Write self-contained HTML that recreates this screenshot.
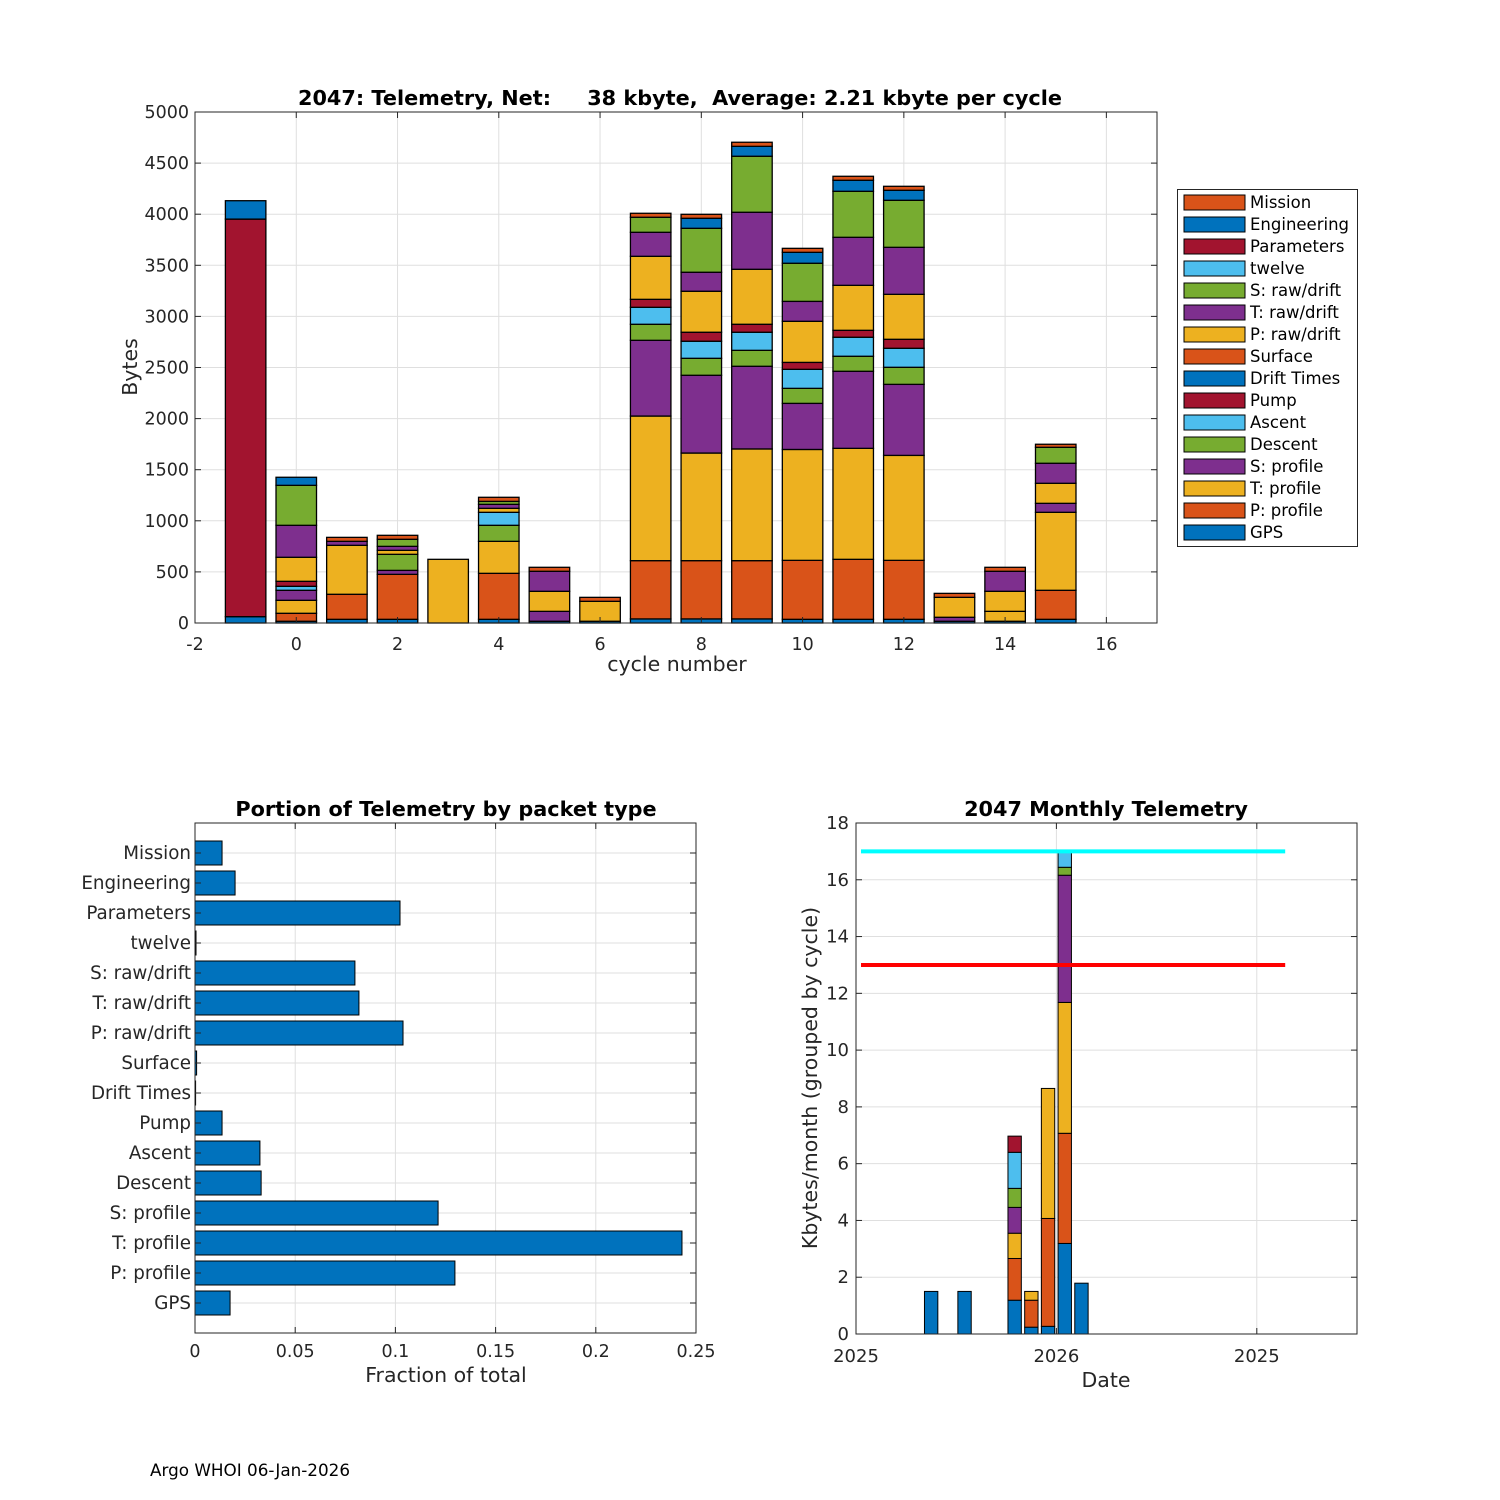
<!DOCTYPE html>
<html><head><meta charset="utf-8">
<style>
html,body{margin:0;padding:0;background:#fff;}
svg{display:block;font-family:"DejaVu Sans","Liberation Sans",sans-serif;}
.pre{white-space:pre;}
</style></head>
<body>
<svg id="fig" width="1500" height="1500" viewBox="0 0 1500 1500" xmlns="http://www.w3.org/2000/svg">
<rect x="0" y="0" width="1500" height="1500" fill="#fff"/>
<g id="top"></g>
<g id="bl"></g>
<g id="br"></g>
<text x="150" y="1476" font-size="16.8" fill="#000">Argo WHOI 06-Jan-2026</text>
</svg>
<script>
// ---------- top chart data ----------
const cycles = [-1,0,1,2,3,4,5,6,7,8,9,10,11,12,13,14,15];
const packetNames = ["GPS","P: profile","T: profile","S: profile","Descent","Ascent","Pump","Drift Times","Surface","P: raw/drift","T: raw/drift","S: raw/drift","twelve","Parameters","Engineering","Mission"];
const gps      = [62,17,36,36,0,36,17,17,40,40,40,36,36,36,17,17,36];
const pProfile = [0,78,245,440,0,450,0,0,570,570,570,577,587,577,0,0,284];
const tProfile = [0,127,479,0,623,313,0,195,1415,1053,1093,1085,1086,1027,0,97,763];
const sProfile = [0,98,39,39,0,0,97,0,741,761,809,451,754,695,39,0,88];
const descent  = [0,0,0,157,0,157,0,0,157,166,156,147,147,167,0,0,0];
const ascent   = [0,39,0,0,0,127,0,0,166,167,177,186,186,186,0,0,0];
const pump     = [0,49,0,0,0,0,0,0,78,88,78,68,68,88,0,0,0];
const driftTimes=[0,0,0,0,0,0,0,0,0,0,0,0,0,0,0,0,0];
const surface  = [0,0,0,0,0,0,0,0,0,0,0,0,0,0,0,0,0];
const pRaw     = [0,235,0,39,0,39,196,0,421,401,538,402,440,440,195,196,196];
const tRaw     = [0,313,0,39,0,39,196,0,235,186,558,195,470,460,0,196,196];
const sRaw     = [0,391,0,69,0,29,0,0,147,430,548,373,450,460,0,0,156];
const twelve   = [0,0,0,0,0,0,0,0,0,0,0,0,0,0,0,0,0];
const parameters=[3890,0,0,0,0,0,0,0,0,0,0,0,0,0,0,0,0];
const engineering=[180,79,0,0,0,0,0,0,0,98,97,107,108,98,0,0,0];
const mission  = [0,0,39,39,0,40,39,39,39,39,40,39,39,39,39,39,30];
const topYTicks = [0,500,1000,1500,2000,2500,3000,3500,4000,4500,5000];
const topXTicks = [-2,0,2,4,6,8,10,12,14,16];

// ---------- bottom-left data ----------
const fractionCats = ["GPS","P: profile","T: profile","S: profile","Descent","Ascent","Pump","Drift Times","Surface","P: raw/drift","T: raw/drift","S: raw/drift","twelve","Parameters","Engineering","Mission"];
const fractionVals = [0.0175,0.1297,0.243,0.1213,0.033,0.0324,0.0135,0.0003,0.0008,0.1038,0.0818,0.0798,0.0005,0.1023,0.020,0.0135];
const fracXTicks = [0,0.05,0.1,0.15,0.2,0.25];
const fracXLabels = ["0","0.05","0.1","0.15","0.2","0.25"];

// ---------- bottom-right data ----------
const monthPos = [4.5,6.5,9.5,10.5,11.5,12.5,13.5];
const mS1 = [1.50,1.50,1.19,0.24,0.27,3.19,1.79];
const mS2 = [0,0,1.47,0.95,3.80,3.88,0];
const mS3 = [0,0,0.89,0.31,4.58,4.61,0];
const mS4 = [0,0,0.91,0,0,4.48,0];
const mS5 = [0,0,0.67,0,0,0.28,0];
const mS6 = [0,0,1.27,0,0,0.57,0];
const mS7 = [0,0,0.57,0,0,0,0];
const monthYTicks = [0,2,4,6,8,10,12,14,16,18];
const monthXTicks = [0,12,24];
const monthXLabels = ["2025","2026","2025"];
const limitHigh = 17, limitLow = 13;
const limitStart = 0.3, limitEnd = 25.7;

const NS="http://www.w3.org/2000/svg";
const C=["#0072BD","#D95319","#EDB120","#7E2F8E","#77AC30","#4DBEEE","#A2142F"];
function el(parent,tag,attrs,text){
  const e=document.createElementNS(NS,tag);
  for(const k in attrs) e.setAttribute(k,attrs[k]);
  if(text!==undefined) e.textContent=text;
  parent.appendChild(e); return e;
}
const GRID="#dfdfdf", AX="#262626", TF=17.5, LF=20.5, TT=20.8;

// ================= TOP =================
(function(){
  const g=document.getElementById('top');
  const L=195,R=1157,T=112,B=623;
  const xmin=-2,xmax=17,ymin=0,ymax=5000;
  const sx=v=>L+(v-xmin)/(xmax-xmin)*(R-L);
  const sy=v=>B-(v-ymin)/(ymax-ymin)*(B-T);
  topXTicks.forEach(t=>{const l=el(g,'line',{x1:sx(t),x2:sx(t),y1:T,y2:B,stroke:GRID,'stroke-width':1});
    });
  topYTicks.forEach(t=>{const l=el(g,'line',{x1:L,x2:R,y1:sy(t),y2:sy(t),stroke:GRID,'stroke-width':1});
    });
  const series=[gps,pProfile,tProfile,sProfile,descent,ascent,pump,driftTimes,surface,pRaw,tRaw,sRaw,twelve,parameters,engineering,mission];
  const hw=0.4;
  cycles.forEach((c,i)=>{
    let acc=0;
    series.forEach((s,k)=>{
      const v=s[i]; if(v<=0) return;
      const r=el(g,'rect',{x:sx(c-hw),y:sy(acc+v),width:sx(c+hw)-sx(c-hw),height:sy(acc)-sy(acc+v),fill:C[k%7],stroke:'#000','stroke-width':1.3});
      
      
      acc+=v;
    });
  });
  const box=el(g,'rect',{x:L,y:T,width:R-L,height:B-T,fill:'none',stroke:AX,'stroke-width':1});
  
  topXTicks.forEach(t=>{
    el(g,'line',{x1:sx(t),x2:sx(t),y1:B,y2:B-6,stroke:AX});
    el(g,'line',{x1:sx(t),x2:sx(t),y1:T,y2:T+6,stroke:AX});
    const tx=el(g,'text',{x:sx(t),y:B+27,'font-size':TF,'text-anchor':'middle',fill:AX},String(t));
    
  });
  topYTicks.forEach(t=>{
    el(g,'line',{x1:L,x2:L+6,y1:sy(t),y2:sy(t),stroke:AX});
    el(g,'line',{x1:R,x2:R-6,y1:sy(t),y2:sy(t),stroke:AX});
    const tx=el(g,'text',{x:L-6,y:sy(t)+6,'font-size':TF,'text-anchor':'end',fill:AX},String(t));
    
  });
  const ti=el(g,'text',{x:680,y:105,'font-size':TT,'font-weight':'bold','text-anchor':'middle',fill:'#000',class:'pre'},'2047: Telemetry, Net:     38 kbyte,  Average: 2.21 kbyte per cycle');
  
  const xl=el(g,'text',{x:677,y:671,'font-size':LF,'text-anchor':'middle',fill:AX},'cycle number');
  
  const yl=el(g,'text',{x:0,y:0,'font-size':LF,'text-anchor':'middle',fill:AX,transform:'translate(137,367) rotate(-90)'},'Bytes');
  
  // legend
  const lg=el(g,'g',{});
  
  el(lg,'rect',{x:1177.5,y:189.5,width:180,height:357,fill:'#fff',stroke:AX,'stroke-width':1});
  for(let j=0;j<16;j++){
    const k=15-j; const yy=202+j*22;
    const e=el(lg,'g',{});
    
    el(e,'rect',{x:1184,y:yy-7,width:61,height:15,fill:C[k%7],stroke:'#000','stroke-width':1});
    el(e,'text',{x:1250,y:yy+6,'font-size':16.5,fill:'#000'},packetNames[k]);
  }
})();

// ================= BOTTOM LEFT =================
(function(){
  const g=document.getElementById('bl');
  const L=195,R=696,T=823,B=1333;
  const sx=v=>L+v/0.25*(R-L);
  const sy=v=>B-v/17*(B-T);
  fracXTicks.forEach(t=>{const l=el(g,'line',{x1:sx(t),x2:sx(t),y1:T,y2:B,stroke:GRID});
    });
  fractionCats.forEach((c,i)=>{const l=el(g,'line',{x1:L,x2:R,y1:sy(i+1),y2:sy(i+1),stroke:GRID});
    });
  fractionVals.forEach((v,i)=>{
    const r=el(g,'rect',{x:L,y:sy(i+1.4),width:sx(v)-L,height:sy(i+0.6)-sy(i+1.4),fill:C[0],stroke:'#000','stroke-width':1});
    
    
  });
  el(g,'rect',{x:L,y:T,width:R-L,height:B-T,fill:'none',stroke:AX});
  fracXTicks.forEach((t,i)=>{
    el(g,'line',{x1:sx(t),x2:sx(t),y1:B,y2:B-6,stroke:AX});
    el(g,'line',{x1:sx(t),x2:sx(t),y1:T,y2:T+6,stroke:AX});
    const tx=el(g,'text',{x:sx(t),y:B+24,'font-size':TF,'text-anchor':'middle',fill:AX},fracXLabels[i]);
    
  });
  fractionCats.forEach((c,i)=>{
    el(g,'line',{x1:L,x2:L+6,y1:sy(i+1),y2:sy(i+1),stroke:AX});
    el(g,'line',{x1:R,x2:R-6,y1:sy(i+1),y2:sy(i+1),stroke:AX});
    const tx=el(g,'text',{x:L-4,y:sy(i+1)+6,'font-size':18.3,'text-anchor':'end',fill:AX},c);
    
  });
  const ti=el(g,'text',{x:446,y:816,'font-size':TT,'font-weight':'bold','text-anchor':'middle',fill:'#000'},'Portion of Telemetry by packet type');
  
  const xl=el(g,'text',{x:446,y:1382,'font-size':LF,'text-anchor':'middle',fill:AX},'Fraction of total');
  
})();

// ================= BOTTOM RIGHT =================
(function(){
  const g=document.getElementById('br');
  const L=856,R=1357,T=823,B=1334;
  const sx=v=>L+v/30*(R-L);
  const sy=v=>B-v/18*(B-T);
  monthXTicks.forEach(t=>{const l=el(g,'line',{x1:sx(t),x2:sx(t),y1:T,y2:B,stroke:GRID});
    });
  monthYTicks.forEach(t=>{const l=el(g,'line',{x1:L,x2:R,y1:sy(t),y2:sy(t),stroke:GRID});
    });
  const ms=[mS1,mS2,mS3,mS4,mS5,mS6,mS7];
  const hw=0.4;
  monthPos.forEach((m,i)=>{
    let acc=0;
    ms.forEach((s,k)=>{
      const v=s[i]; if(v<=0) return;
      const r=el(g,'rect',{x:sx(m-hw),y:sy(acc+v),width:sx(m+hw)-sx(m-hw),height:sy(acc)-sy(acc+v),fill:C[k],stroke:'#000','stroke-width':1});
      
      
      acc+=v;
    });
  });
  const lh=el(g,'line',{x1:sx(limitStart),x2:sx(limitEnd),y1:sy(limitHigh),y2:sy(limitHigh),stroke:'#00FFFF','stroke-width':4});
  
  const ll=el(g,'line',{x1:sx(limitStart),x2:sx(limitEnd),y1:sy(limitLow),y2:sy(limitLow),stroke:'#FF0000','stroke-width':4});
  
  el(g,'rect',{x:L,y:T,width:R-L,height:B-T,fill:'none',stroke:AX});
  monthXTicks.forEach((t,i)=>{
    el(g,'line',{x1:sx(t),x2:sx(t),y1:B,y2:B-6,stroke:AX});
    el(g,'line',{x1:sx(t),x2:sx(t),y1:T,y2:T+6,stroke:AX});
    const tx=el(g,'text',{x:sx(t),y:B+28,'font-size':18,'text-anchor':'middle',fill:AX},monthXLabels[i]);
    
  });
  monthYTicks.forEach(t=>{
    el(g,'line',{x1:L,x2:L+6,y1:sy(t),y2:sy(t),stroke:AX});
    el(g,'line',{x1:R,x2:R-6,y1:sy(t),y2:sy(t),stroke:AX});
    const tx=el(g,'text',{x:L-7,y:sy(t)+6,'font-size':18,'text-anchor':'end',fill:AX},String(t));
    
  });
  const ti=el(g,'text',{x:1106,y:816,'font-size':TT,'font-weight':'bold','text-anchor':'middle',fill:'#000'},'2047 Monthly Telemetry');
  
  const xl=el(g,'text',{x:1106,y:1387,'font-size':LF,'text-anchor':'middle',fill:AX},'Date');
  
  const yl=el(g,'text',{x:0,y:0,'font-size':LF,'text-anchor':'middle',fill:AX,transform:'translate(817,1078) rotate(-90)'},'Kbytes/month (grouped by cycle)');
  
})();
</script>
</body></html>
